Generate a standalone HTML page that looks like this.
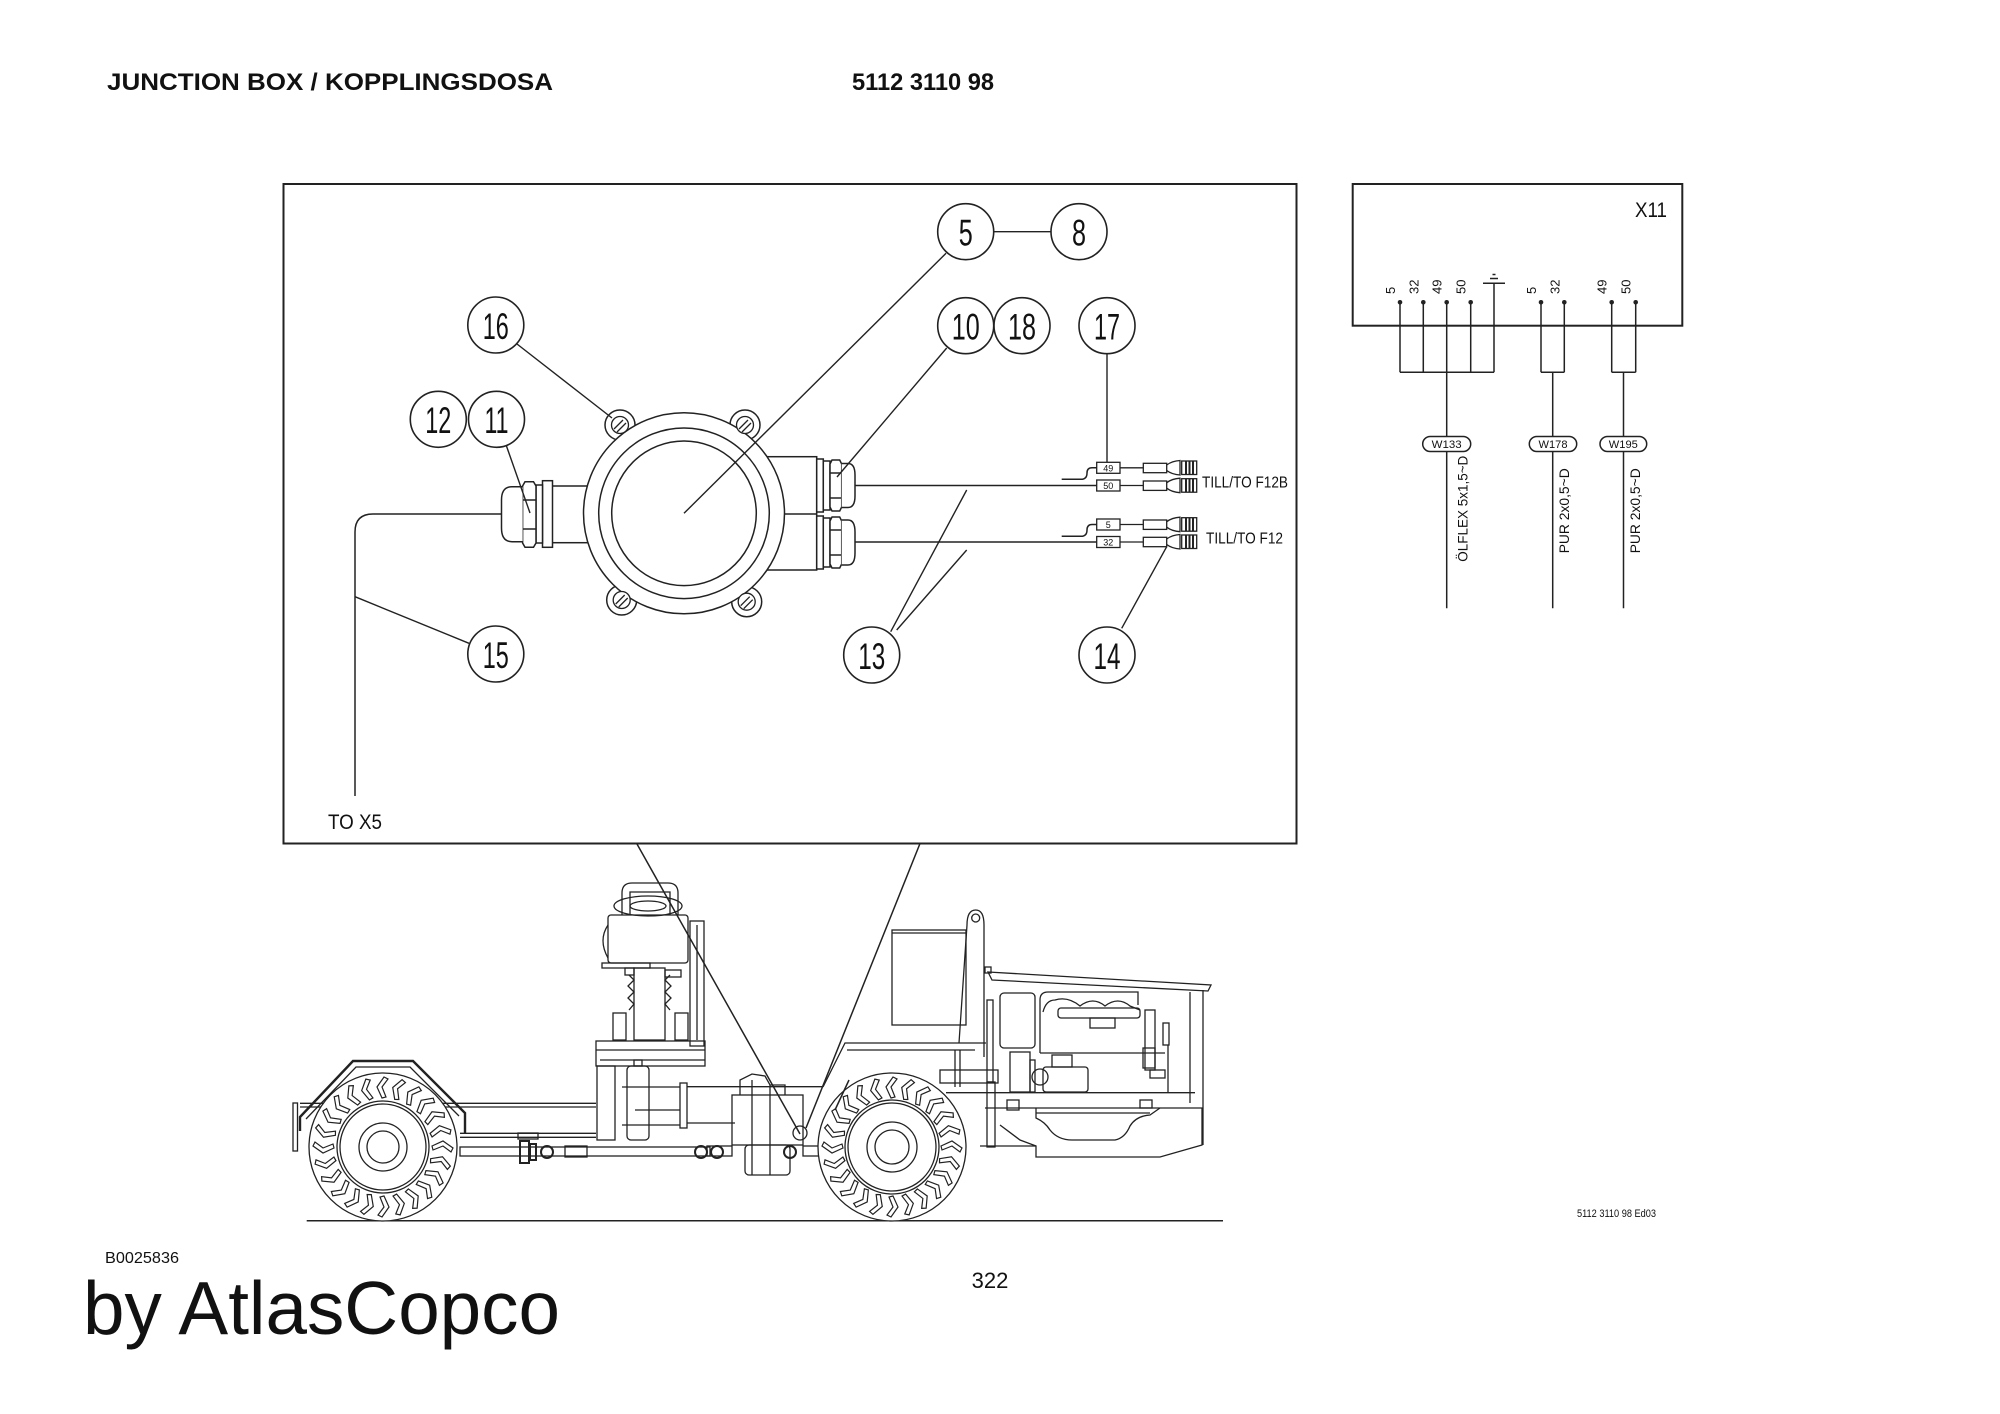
<!DOCTYPE html>
<html><head><meta charset="utf-8"><style>
html,body{margin:0;padding:0;background:#fff;}
svg{display:block;}
text{font-family:"Liberation Sans",Arial,sans-serif;fill:#111;}
</style></head><body>
<svg width="2000" height="1414" viewBox="0 0 2000 1414" xmlns="http://www.w3.org/2000/svg">
<rect width="2000" height="1414" fill="#fff"/>
<defs>
<path id="tr" d="M-1,-49 L-6,-60 L1,-70 L5,-68 L-1,-60 L3,-50 Z" fill="#fff" stroke="#222" stroke-width="1.2"/>
</defs>

<!-- header -->
<text x="107" y="90" font-size="24" font-weight="bold" textLength="446" lengthAdjust="spacingAndGlyphs">JUNCTION BOX / KOPPLINGSDOSA</text>
<text x="852" y="90" font-size="24" font-weight="bold" textLength="142" lengthAdjust="spacingAndGlyphs">5112 3110 98</text>

<!-- main box -->
<rect x="283.5" y="184" width="1013" height="659.5" fill="none" stroke="#222" stroke-width="2"/>

<g fill="none" stroke="#222" stroke-width="1.5">
<!-- left cable -->
<path d="M501.5,514 L373,514 Q355,514 355,532 L355,796"/>
<!-- left tube -->
<rect x="552" y="486" width="50" height="56.7" fill="#fff"/>
<rect x="542.5" y="480.7" width="10" height="66.6" fill="#fff"/>
<rect x="536" y="485" width="6.5" height="58" fill="#fff"/>
<polygon points="525,481.7 533.5,481.7 536,486 536,543 533.5,547.3 525,547.3 522.6,543 522.6,486" fill="#fff"/>
<line x1="522.6" y1="500" x2="536" y2="500"/><line x1="522.6" y1="529" x2="536" y2="529"/>
<path d="M522.6,486.7 L512,486.7 Q501.5,486.7 501.5,500 L501.5,528 Q501.5,541.7 512,541.7 L522.6,541.7" fill="#fff"/>
<!-- right housing -->
<rect x="766.7" y="456.7" width="50" height="113.3" fill="#fff"/>
<line x1="766.7" y1="514" x2="816.7" y2="514"/>
<!-- ears -->
<circle cx="620" cy="425" r="15" fill="#fff"/>
<circle cx="745" cy="425" r="15" fill="#fff"/>
<circle cx="621.7" cy="600" r="15" fill="#fff"/>
<circle cx="746.7" cy="601.7" r="15" fill="#fff"/>
<!-- rings -->
<circle cx="684" cy="513.3" r="100.5" fill="#fff"/>
<circle cx="684" cy="513.3" r="85.3"/>
<circle cx="684" cy="513.3" r="72.3"/>
<!-- screws -->
<g stroke-width="1.3">
<circle cx="620" cy="425" r="8.5" fill="#fff"/><path d="M614,429 L623,420 M617,432 L626,423"/>
<circle cx="745" cy="425" r="8.5" fill="#fff"/><path d="M739,429 L748,420 M742,432 L751,423"/>
<circle cx="621.7" cy="600" r="8.5" fill="#fff"/><path d="M615.7,604 L624.7,595 M618.7,607 L627.7,598"/>
<circle cx="746.7" cy="601.7" r="8.5" fill="#fff"/><path d="M740.7,605.7 L749.7,596.7 M743.7,608.7 L752.7,599.7"/>
</g>
<!-- right glands top -->
<rect x="816.7" y="459" width="6.6" height="53" fill="#fff"/>
<rect x="823.3" y="461" width="6.7" height="49" fill="#fff"/>
<polygon points="832,460 839.7,460 841.7,464 841.7,507 839.7,511 832,511 830,507 830,464" fill="#fff"/>
<line x1="830" y1="473" x2="841.7" y2="473"/><line x1="830" y1="498" x2="841.7" y2="498"/>
<path d="M841.7,463.5 L848,463.5 Q855,463.5 855,475 L855,496 Q855,507.5 848,507.5 L841.7,507.5" fill="#fff"/>
<!-- right glands bottom -->
<rect x="816.7" y="516" width="6.6" height="53" fill="#fff"/>
<rect x="823.3" y="518" width="6.7" height="49" fill="#fff"/>
<polygon points="832,517 839.7,517 841.7,521 841.7,564 839.7,568 832,568 830,564 830,521" fill="#fff"/>
<line x1="830" y1="530" x2="841.7" y2="530"/><line x1="830" y1="555" x2="841.7" y2="555"/>
<path d="M841.7,520 L848,520 Q855,520 855,532 L855,553 Q855,565 848,565 L841.7,565" fill="#fff"/>
<!-- wires -->
<line x1="855" y1="485.5" x2="1096.7" y2="485.5"/>
<line x1="855" y1="542" x2="1096.7" y2="542"/>
<path d="M1061.7,479.3 L1081,479.3 Q1087,479.3 1087,473 Q1087,467.8 1092,467.8 L1096.7,467.8"/>
<path d="M1061.7,536.3 L1081,536.3 Q1087,536.3 1087,530 Q1087,524.5 1092,524.5 L1096.7,524.5"/>
</g>

<!-- terminals -->
<g fill="none" stroke="#222" stroke-width="1.3">
<rect x="1096.7" y="462.3" width="23.3" height="11"/>
<rect x="1096.7" y="480" width="23.3" height="11"/>
<rect x="1096.7" y="519" width="23.3" height="11"/>
<rect x="1096.7" y="536.5" width="23.3" height="11"/>
<line x1="1120" y1="467.8" x2="1143.3" y2="467.8"/>
<line x1="1120" y1="485.5" x2="1143.3" y2="485.5"/>
<line x1="1120" y1="524.5" x2="1143.3" y2="524.5"/>
<line x1="1120" y1="542" x2="1143.3" y2="542"/>
<rect x="1143.3" y="463.3" width="23.4" height="9.4"/>
<rect x="1143.3" y="481" width="23.4" height="9.4"/>
<rect x="1143.3" y="520" width="23.4" height="9.4"/>
<rect x="1143.3" y="537.3" width="23.4" height="9.4"/>
<path d="M1166.7,465 Q1172,461 1180,460.5 L1180,475 Q1172,474.5 1166.7,470.5"/>
<path d="M1166.7,482.7 Q1172,478.7 1180,478.2 L1180,492.7 Q1172,492.2 1166.7,488.2"/>
<path d="M1166.7,521.7 Q1172,517.7 1180,517.2 L1180,531.7 Q1172,531.2 1166.7,527.2"/>
<path d="M1166.7,539 Q1172,535 1180,534.5 L1180,549 Q1172,548.5 1166.7,544.5"/>
<rect x="1181.7" y="461" width="15" height="13.5"/>
<rect x="1181.7" y="478.7" width="15" height="13.5"/>
<rect x="1181.7" y="517.7" width="15" height="13.5"/>
<rect x="1181.7" y="535" width="15" height="13.5"/>
</g>
<g stroke="#222" stroke-width="2">
<path d="M1186,461 V474.5 M1189.5,461 V474.5 M1193,461 V474.5"/>
<path d="M1186,478.7 V492.2 M1189.5,478.7 V492.2 M1193,478.7 V492.2"/>
<path d="M1186,517.7 V531.2 M1189.5,517.7 V531.2 M1193,517.7 V531.2"/>
<path d="M1186,535 V548.5 M1189.5,535 V548.5 M1193,535 V548.5"/>
</g>
<g font-size="9" text-anchor="middle">
<text x="1108.3" y="471.5">49</text>
<text x="1108.3" y="489">50</text>
<text x="1108.3" y="528">5</text>
<text x="1108.3" y="545.5">32</text>
</g>
<text x="1202" y="487.5" font-size="16" textLength="86" lengthAdjust="spacingAndGlyphs">TILL/TO F12B</text>
<text x="1206" y="543.5" font-size="16" textLength="77" lengthAdjust="spacingAndGlyphs">TILL/TO F12</text>
<text x="328" y="829" font-size="21" textLength="54" lengthAdjust="spacingAndGlyphs">TO X5</text>

<!-- leaders -->
<g stroke="#222" stroke-width="1.4" fill="none">
<line x1="517" y1="344" x2="612" y2="418"/>
<line x1="504" y1="439" x2="530" y2="513"/>
<line x1="946" y1="253.3" x2="684" y2="513.3"/>
<line x1="993.7" y1="231.7" x2="1051" y2="231.7"/>
<line x1="946.7" y1="348" x2="837" y2="477"/>
<line x1="1107" y1="354" x2="1107" y2="462.3"/>
<line x1="890.7" y1="631.7" x2="966.7" y2="490"/>
<line x1="896.7" y1="630" x2="966.7" y2="550"/>
<line x1="1121.7" y1="628.3" x2="1166.7" y2="546.7"/>
<line x1="355" y1="596.7" x2="469" y2="643.3"/>
</g>

<!-- callouts -->
<g fill="#fff" stroke="#222" stroke-width="1.6">
<circle cx="495.8" cy="325" r="28"/>
<circle cx="438.3" cy="419.3" r="28"/>
<circle cx="496.5" cy="419.3" r="28"/>
<circle cx="495.8" cy="654" r="28"/>
<circle cx="965.7" cy="231.7" r="28"/>
<circle cx="1079" cy="231.7" r="28"/>
<circle cx="965.7" cy="325.7" r="28"/>
<circle cx="1022" cy="325.7" r="28"/>
<circle cx="1107" cy="325.7" r="28"/>
<circle cx="871.7" cy="655" r="28"/>
<circle cx="1107" cy="655" r="28"/>
</g>
<g font-size="37" text-anchor="middle">
<text x="495.8" y="339" textLength="26" lengthAdjust="spacingAndGlyphs">16</text>
<text x="438.3" y="433" textLength="26" lengthAdjust="spacingAndGlyphs">12</text>
<text x="496.5" y="433" textLength="24" lengthAdjust="spacingAndGlyphs">11</text>
<text x="495.8" y="668" textLength="26" lengthAdjust="spacingAndGlyphs">15</text>
<text x="965.7" y="245.5" textLength="14" lengthAdjust="spacingAndGlyphs">5</text>
<text x="1079" y="245.5" textLength="14" lengthAdjust="spacingAndGlyphs">8</text>
<text x="965.7" y="339.5" textLength="28" lengthAdjust="spacingAndGlyphs">10</text>
<text x="1022" y="339.5" textLength="28" lengthAdjust="spacingAndGlyphs">18</text>
<text x="1107" y="339.5" textLength="26" lengthAdjust="spacingAndGlyphs">17</text>
<text x="871.7" y="669" textLength="27" lengthAdjust="spacingAndGlyphs">13</text>
<text x="1107" y="669" textLength="27" lengthAdjust="spacingAndGlyphs">14</text>
</g>

<!-- X11 -->
<rect x="1352.7" y="184" width="329.6" height="141.7" fill="none" stroke="#222" stroke-width="2"/>
<text x="1635" y="217" font-size="21" textLength="32" lengthAdjust="spacingAndGlyphs">X11</text>
<g stroke="#222" stroke-width="1.5" fill="none">
<path d="M1400,302.3 V372.3 M1423.3,302.3 V372.3 M1446.7,302.3 V608.3 M1470.7,302.3 V372.3 M1494,283.3 V372.3 M1400,372.3 H1494"/>
<path d="M1483,283.3 H1505 M1490,278.5 H1498 M1492.5,274.5 H1495.5"/>
<path d="M1541,302.3 V372.3 M1564.3,302.3 V372.3 M1541,372.3 H1564.3 M1552.7,372.3 V608.3"/>
<path d="M1611.7,302.3 V372.3 M1635.7,302.3 V372.3 M1611.7,372.3 H1635.7 M1623.5,372.3 V608.3"/>
</g>
<g fill="#222">
<circle cx="1400" cy="302.3" r="2.3"/><circle cx="1423.3" cy="302.3" r="2.3"/><circle cx="1446.7" cy="302.3" r="2.3"/><circle cx="1470.7" cy="302.3" r="2.3"/>
<circle cx="1541" cy="302.3" r="2.3"/><circle cx="1564.3" cy="302.3" r="2.3"/><circle cx="1611.7" cy="302.3" r="2.3"/><circle cx="1635.7" cy="302.3" r="2.3"/>
</g>
<g font-size="13">
<text transform="translate(1395,294) rotate(-90)">5</text>
<text transform="translate(1418.3,294) rotate(-90)">32</text>
<text transform="translate(1441.7,294) rotate(-90)">49</text>
<text transform="translate(1465.7,294) rotate(-90)">50</text>
<text transform="translate(1536,294) rotate(-90)">5</text>
<text transform="translate(1559.3,294) rotate(-90)">32</text>
<text transform="translate(1606.7,294) rotate(-90)">49</text>
<text transform="translate(1630.7,294) rotate(-90)">50</text>
</g>
<g fill="#fff" stroke="#222" stroke-width="1.5">
<rect x="1422.7" y="436.5" width="48" height="15" rx="7.5"/>
<rect x="1529.3" y="436.5" width="47.4" height="15" rx="7.5"/>
<rect x="1600" y="436.5" width="46.7" height="15" rx="7.5"/>
</g>
<g font-size="11" text-anchor="middle">
<text x="1446.7" y="448" textLength="30" lengthAdjust="spacingAndGlyphs">W133</text>
<text x="1553" y="448" textLength="29" lengthAdjust="spacingAndGlyphs">W178</text>
<text x="1623.3" y="448" textLength="29" lengthAdjust="spacingAndGlyphs">W195</text>
</g>
<g font-size="14">
<text transform="translate(1467.5,561.7) rotate(-90)" textLength="106" lengthAdjust="spacingAndGlyphs">ÖLFLEX 5x1,5~D</text>
<text transform="translate(1569,553.3) rotate(-90)" textLength="85" lengthAdjust="spacingAndGlyphs">PUR 2x0,5~D</text>
<text transform="translate(1640,553.3) rotate(-90)" textLength="85" lengthAdjust="spacingAndGlyphs">PUR 2x0,5~D</text>
</g>

<!-- truck -->
<g fill="none" stroke="#222" stroke-width="1.3">
<!-- ground -->
<line x1="306.7" y1="1220.7" x2="1223" y2="1220.7" stroke-width="1.5"/>
<!-- leader lines to truck -->
<line x1="636.7" y1="843.5" x2="800" y2="1134" stroke-width="1.5"/>
<line x1="920" y1="843.5" x2="806" y2="1128" stroke-width="1.5"/>
<!-- rear -->
<rect x="293" y="1103" width="4.5" height="48"/>
<polyline points="300,1131 300,1117 353,1061 413,1061 465,1113 465,1133" stroke-width="2.4"/>
<polyline points="306,1119 356,1067 410,1067 459,1116"/>
<line x1="300" y1="1103.3" x2="596" y2="1103.3"/><line x1="300" y1="1107" x2="596" y2="1107"/>
<line x1="460" y1="1133.3" x2="596" y2="1133.3"/><line x1="460" y1="1137.3" x2="596" y2="1137.3"/>
<rect x="460" y="1147" width="250" height="9"/>
<rect x="520" y="1141" width="9" height="22" stroke-width="2"/>
<rect x="530" y="1144" width="6" height="16" stroke-width="2"/>
<circle cx="547" cy="1152" r="6" stroke-width="2"/>
<rect x="565" y="1146" width="22" height="11"/>
<circle cx="701" cy="1152" r="6" stroke-width="2"/>
<rect x="518" y="1133" width="20" height="6"/>
<!-- rear wheel -->
<g transform="translate(383,1147)">
<circle r="74" fill="#fff"/><circle r="46"/><circle r="43"/><circle r="24"/><circle r="16"/>
<use href="#tr"/><use href="#tr" transform="rotate(15)"/><use href="#tr" transform="rotate(30)"/><use href="#tr" transform="rotate(45)"/><use href="#tr" transform="rotate(60)"/><use href="#tr" transform="rotate(75)"/><use href="#tr" transform="rotate(90)"/><use href="#tr" transform="rotate(105)"/><use href="#tr" transform="rotate(120)"/><use href="#tr" transform="rotate(135)"/><use href="#tr" transform="rotate(150)"/><use href="#tr" transform="rotate(165)"/><use href="#tr" transform="rotate(180)"/><use href="#tr" transform="rotate(195)"/><use href="#tr" transform="rotate(210)"/><use href="#tr" transform="rotate(225)"/><use href="#tr" transform="rotate(240)"/><use href="#tr" transform="rotate(255)"/><use href="#tr" transform="rotate(270)"/><use href="#tr" transform="rotate(285)"/><use href="#tr" transform="rotate(300)"/><use href="#tr" transform="rotate(315)"/><use href="#tr" transform="rotate(330)"/><use href="#tr" transform="rotate(345)"/>
</g>
<!-- seat / column -->
<path d="M622,915 L622,893 Q622,883 632,883 L668,883 Q678,883 678,893 L678,915"/>
<path d="M630,915 L630,892 L670,892 L670,915"/>
<ellipse cx="648" cy="906" rx="34" ry="10"/>
<ellipse cx="648" cy="906" rx="18" ry="5"/>
<rect x="608" y="915" width="80" height="48" rx="3"/>
<path d="M608,925 Q598,940 608,958"/>
<rect x="602" y="963" width="48" height="5"/>
<rect x="634" y="968" width="31" height="72"/>
<path d="M629,975 L634,980 L628,986 L634,992 L628,998 L634,1004 L629,1010"/>
<path d="M670,975 L665,980 L671,986 L665,992 L671,998 L665,1004 L670,1010"/>
<rect x="625" y="968" width="9" height="7"/>
<rect x="665" y="970" width="16" height="7"/>
<rect x="613" y="1013" width="13" height="27"/>
<rect x="675" y="1013" width="13" height="27"/>
<rect x="690" y="921" width="14" height="125"/>
<line x1="697" y1="925" x2="697" y2="1040"/>
<rect x="596" y="1041" width="109" height="25"/>
<line x1="596" y1="1050" x2="705" y2="1050"/><line x1="600" y1="1060" x2="705" y2="1060"/>
<rect x="597" y="1066" width="18" height="74"/>
<rect x="627" y="1066" width="22" height="74" rx="4"/>
<rect x="634" y="1060" width="8" height="6"/>
<line x1="622" y1="1087" x2="680" y2="1087"/><line x1="635" y1="1110" x2="680" y2="1110"/><line x1="622" y1="1125" x2="680" y2="1125"/>
<rect x="680" y="1083" width="7" height="45"/>
<line x1="687" y1="1086.7" x2="823" y2="1086.7"/><line x1="687" y1="1123" x2="735" y2="1123"/>
<!-- gearbox -->
<path d="M740,1095 L740,1080 L752,1074 L765,1076 L770,1085 L785,1085 L785,1095"/>
<rect x="732" y="1095" width="71" height="50"/>
<rect x="745" y="1145" width="45" height="30" rx="4"/>
<line x1="752" y1="1080" x2="752" y2="1175"/><line x1="770" y1="1085" x2="770" y2="1175"/>
<rect x="707" y="1146" width="25" height="10"/>
<rect x="803" y="1146" width="18" height="10"/>
<circle cx="717" cy="1152" r="6" stroke-width="2"/>
<circle cx="790" cy="1152" r="6" stroke-width="2"/>
<circle cx="800" cy="1133" r="7"/>
<!-- front body -->
<polyline points="823,1087 845,1043 986,1043"/>
<polyline points="847,1050 975,1050"/>
<line x1="955" y1="1050" x2="955" y2="1087"/><line x1="960" y1="1050" x2="960" y2="1087"/>
<rect x="892" y="930" width="74" height="95"/>
<line x1="892" y1="933" x2="966" y2="933"/>
<path d="M967,925 Q967,910 975.7,910 Q984,910 984,925 L984,1057 M967,925 L959,1043"/>
<circle cx="975.7" cy="918" r="4"/>
<rect x="940" y="1070" width="58" height="13"/>
<rect x="987" y="1082" width="8" height="65"/>
<line x1="946" y1="1092.7" x2="1195" y2="1092.7"/>
<rect x="987" y="1000" width="6" height="82"/>
<!-- front wheel -->
<g transform="translate(892,1147)">
<circle r="74" fill="#fff"/><circle r="47"/><circle r="44"/><circle r="25"/><circle r="17"/>
<use href="#tr"/><use href="#tr" transform="rotate(15)"/><use href="#tr" transform="rotate(30)"/><use href="#tr" transform="rotate(45)"/><use href="#tr" transform="rotate(60)"/><use href="#tr" transform="rotate(75)"/><use href="#tr" transform="rotate(90)"/><use href="#tr" transform="rotate(105)"/><use href="#tr" transform="rotate(120)"/><use href="#tr" transform="rotate(135)"/><use href="#tr" transform="rotate(150)"/><use href="#tr" transform="rotate(165)"/><use href="#tr" transform="rotate(180)"/><use href="#tr" transform="rotate(195)"/><use href="#tr" transform="rotate(210)"/><use href="#tr" transform="rotate(225)"/><use href="#tr" transform="rotate(240)"/><use href="#tr" transform="rotate(255)"/><use href="#tr" transform="rotate(270)"/><use href="#tr" transform="rotate(285)"/><use href="#tr" transform="rotate(300)"/><use href="#tr" transform="rotate(315)"/><use href="#tr" transform="rotate(330)"/><use href="#tr" transform="rotate(345)"/>
</g>
<line x1="849" y1="1080" x2="835" y2="1110" stroke-width="1.5"/>
<!-- engine compartment -->
<polygon points="988,972 1211,985 1208,991 992,980"/>
<rect x="985" y="967" width="6" height="6"/>
<line x1="1203" y1="990" x2="1203" y2="1145"/>
<line x1="1190" y1="992" x2="1190" y2="1103"/>
<rect x="1000" y="993" width="35" height="55" rx="4"/>
<path d="M1040,1053 L1040,1000 Q1040,992 1048,992 L1138,992 L1138,1005"/>
<path d="M1043,1012 Q1046,1000 1055,1000 Q1068,996 1080,1006 Q1093,996 1105,1006 Q1118,996 1130,1006 L1140,1010"/>
<rect x="1058" y="1008" width="82" height="10" rx="3"/>
<rect x="1090" y="1018" width="25" height="10"/>
<line x1="1040" y1="1053" x2="1165" y2="1053"/>
<rect x="1145" y="1010" width="10" height="60"/>
<rect x="1143" y="1048" width="12" height="20"/>
<rect x="1163" y="1023" width="6" height="22"/>
<rect x="1150" y="1070" width="15" height="8"/>
<line x1="1168" y1="1045" x2="1168" y2="1092"/>
<rect x="1043" y="1067" width="45" height="25" rx="3"/>
<rect x="1052" y="1055" width="20" height="12"/>
<circle cx="1040" cy="1077" r="8"/>
<rect x="1030" y="1060" width="5" height="32"/>
<rect x="1010" y="1052" width="20" height="40"/>
<path d="M1036,1108 L1036,1118 Q1045,1122 1050,1130 Q1058,1140 1072,1140 L1115,1140 Q1125,1138 1130,1126 Q1136,1116 1150,1115 L1160,1108"/>
<path d="M1000,1125 L1020,1140 L1036,1146 L1036,1157 L1160,1157 L1202,1145 L1202,1108 L1160,1108"/>
<line x1="985" y1="1108" x2="1160" y2="1108"/>
<line x1="1036" y1="1113" x2="1150" y2="1113"/>
<rect x="1007" y="1100" width="12" height="10"/>
<rect x="1140" y="1100" width="12" height="8"/>
<line x1="980" y1="1146" x2="1036" y2="1146"/>
</g>

<!-- footer -->
<text x="1577" y="1217" font-size="11" textLength="79" lengthAdjust="spacingAndGlyphs" fill="#333">5112 3110 98 Ed03</text>
<text x="105" y="1263" font-size="16" textLength="74" lengthAdjust="spacingAndGlyphs">B0025836</text>
<text x="990" y="1288" font-size="22" text-anchor="middle">322</text>
<text x="83" y="1334" font-size="75" textLength="477" lengthAdjust="spacingAndGlyphs">by AtlasCopco</text>
</svg>
</body></html>
